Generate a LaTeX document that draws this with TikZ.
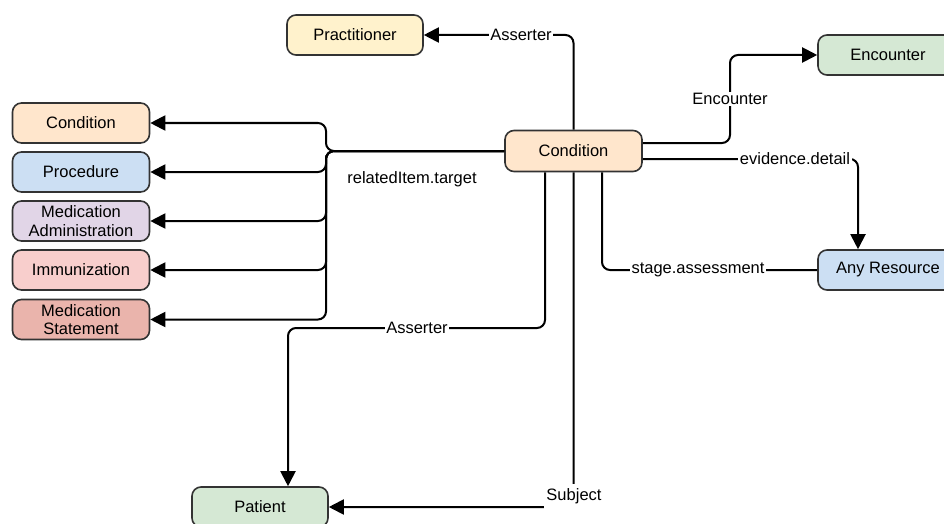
\documentclass[tikz,border=0pt]{standalone}
\usepackage{fontspec}
\setmainfont{Liberation Sans}
\usetikzlibrary{arrows.meta,calc}
\definecolor{bordc}{HTML}{333333}
\definecolor{cOrange}{HTML}{FFE6CC}
\definecolor{cYellow}{HTML}{FFF2CC}
\definecolor{cGreen}{HTML}{D5E8D4}
\definecolor{cBlue}{HTML}{CCDFF3}
\definecolor{cPurple}{HTML}{E1D5E7}
\definecolor{cPink}{HTML}{F8CECC}
\definecolor{cSalmon}{HTML}{EAB4AC}
\begin{document}
\begin{tikzpicture}[x=1pt,y=-1pt,
  box/.style={draw=bordc, line width=1.6pt, rounded corners=9pt, minimum width=136pt,
    minimum height=40pt, align=center, inner sep=2pt, font=\fontsize{16.5}{18.5}\selectfont},
  lbox/.style={box, minimum width=137pt},
  conn/.style={line width=2pt, rounded corners=8pt},
  arr/.style={conn, -{Triangle[length=15pt,width=15pt]}},
  lbl/.style={fill=white, inner sep=1.5pt, font=\fontsize{16.5}{18.5}\selectfont}]
\clip (0,0) rectangle (944,524);
\useasboundingbox (0,0) rectangle (944,524);

% nodes
\node[box, fill=cYellow] (prac) at (355,35) {Practitioner};
\node[box, fill=cGreen, minimum width=140pt] (enc) at (888,55) {Encounter};
\node[box, fill=cOrange, minimum width=137pt, minimum height=41pt] (cond) at (573.5,151) {Condition};
\node[lbox, fill=cOrange] (rcond) at (81,123) {Condition};
\node[lbox, fill=cBlue] (proc) at (81,172) {Procedure};
\node[lbox, fill=cPurple] (madm) at (81,221) {Medication\\Administration};
\node[lbox, fill=cPink] (imm) at (81,270) {Immunization};
\node[lbox, fill=cSalmon] (mst) at (81,319.5) {Medication\\Statement};
\node[box, fill=cBlue, minimum width=140pt] (anyr) at (888,270) {Any Resource};
\node[box, fill=cGreen] (pat) at (260,507) {Patient};

% connectors
\draw[arr] (cond.north) |- (prac.east);
\node[lbl] (lAss1) at (521,35) {Asserter};

\draw[arr] ([yshift=8pt]cond.east) -- (730,143) |- (enc.west);
\node[lbl] (lEnc) at (730,99) {Encounter};

\draw[arr] ([yshift=-8pt]cond.east) -| ([xshift=-30pt]anyr.north);
\node[lbl] (lEv) at (795,159) {evidence.detail};

\draw[conn] (anyr.west) -| ([xshift=28.5pt]cond.south);
\node[lbl] (lSt) at (698,270) {stage.assessment};

\draw[arr] (cond.west) -- (326,151) |- (rcond.east);
\draw[arr] (cond.west) -- (326,151) |- (proc.east);
\draw[arr] (cond.west) -- (326,151) |- (madm.east);
\draw[arr] (cond.west) -- (326,151) |- (imm.east);
\draw[arr] (cond.west) -- (326,151) |- (mst.east);
\node[font=\fontsize{16.5}{18.5}\selectfont] (lRel) at (412,179) {relatedItem.target};

\draw[arr] ([xshift=-28.5pt]cond.south) |- (416,328) -| ([xshift=28pt]pat.north);
\node[lbl] (lAss2) at (417,328) {Asserter};

\draw[arr] (cond.south) |- (pat.east);
\node[lbl, minimum width=60pt, minimum height=25pt] (lSub) at (574,496) {Subject};
\end{tikzpicture}
\end{document}
